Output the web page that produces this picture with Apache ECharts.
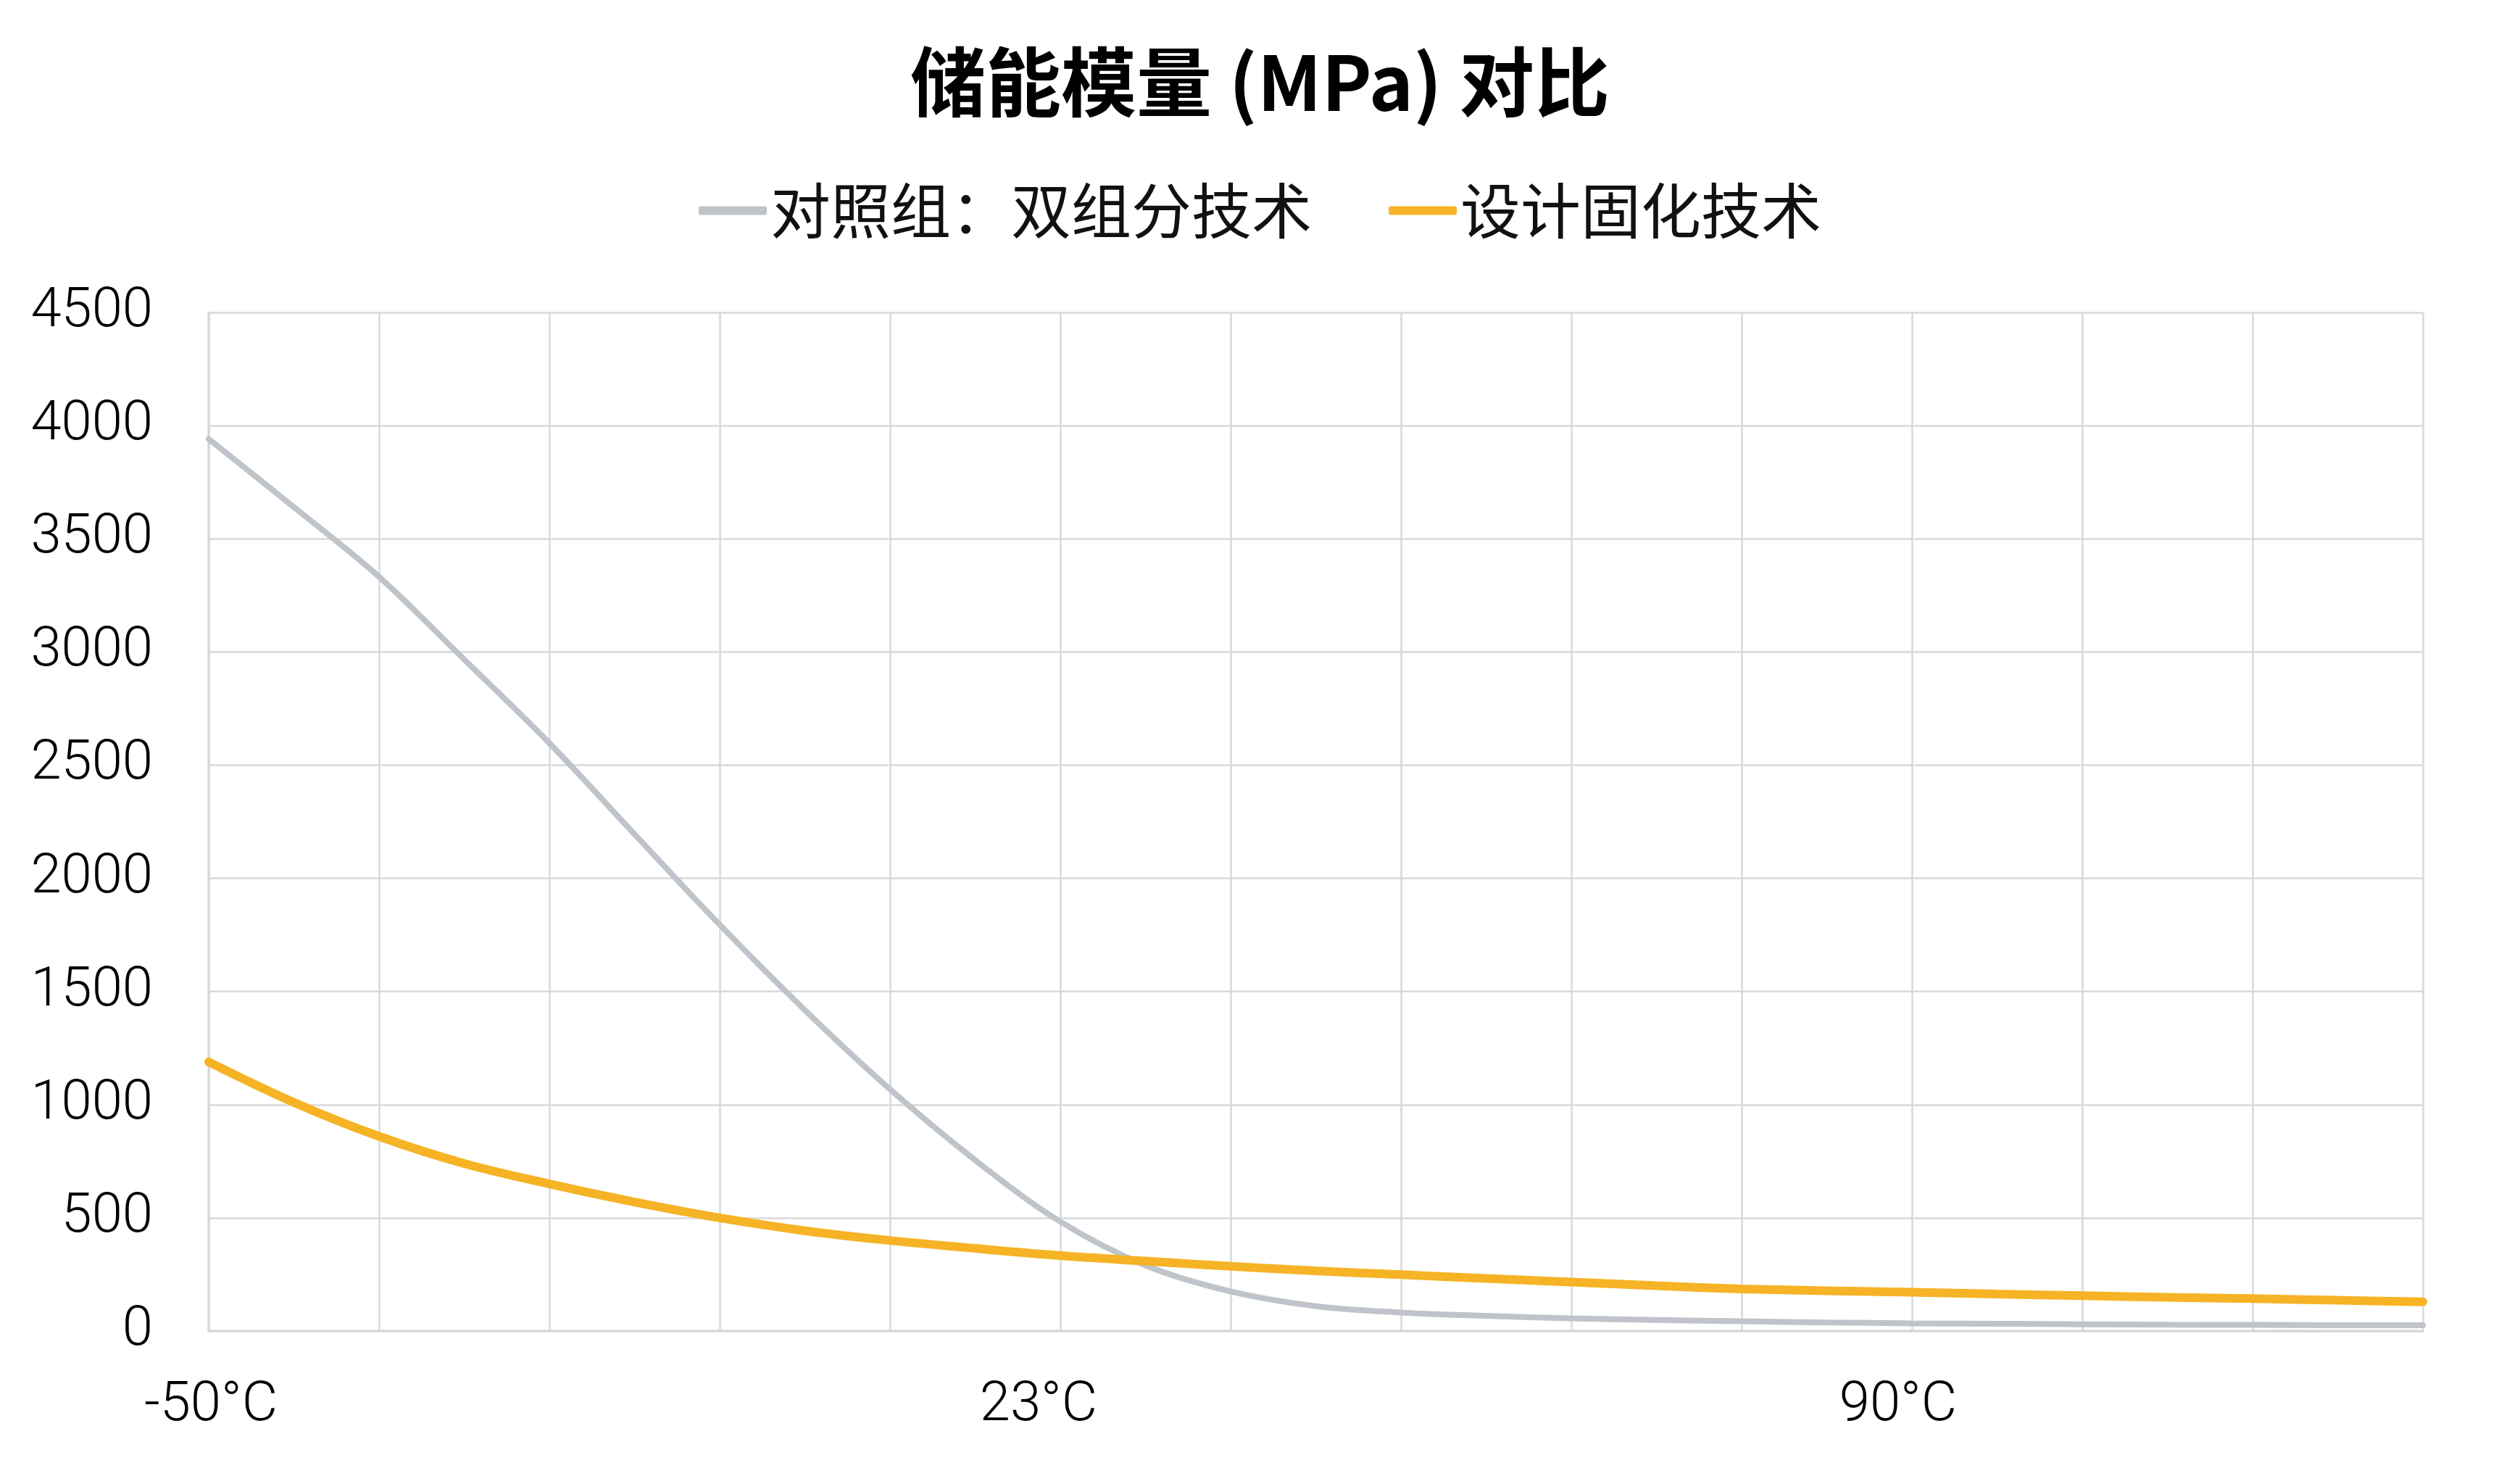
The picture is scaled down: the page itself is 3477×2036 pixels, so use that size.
<!DOCTYPE html>
<html>
<head>
<meta charset="utf-8">
<script src="https://cdn.jsdelivr.net/npm/echarts@6/dist/echarts.min.js"></script>
<style>
html,body{margin:0;padding:0;background:#fff;}
#chart{width:3477px;height:2036px;}
</style>
</head>
<body>
<div id="chart"></div>
<script>
const titleText = '储能模量 (MPa) 对比';
const seriesNames = ['对照组：双组分技术', '设计固化技术'];
const xCategories = ['-50°C','','','','','','','','','','23°C','','','','','','','','','','90°C','','','','','',''];
const controlValues = [3941,3640,3332,2967,2597,2195,1795,1418,1068,755,483,290,175,110,82,67,56,49,43,38,34,32,30,28,27,26,26];
const designValues = [1189,1010,860,740,650,570,500,443,400,365,333,309,286,266,249,232,216,200,186,178,171,163,156,149,143,136,129];
const yTicks = {min:0, max:4500, interval:500};

const latin = 'Roboto, "Noto Sans", sans-serif';
const cjk = '"Noto Sans CJK SC", "Noto Sans", sans-serif';
const labelStyle = {fontFamily:latin,fontSize:76,fontWeight:300,color:'#000'};

const chart = echarts.init(document.getElementById('chart'));
chart.setOption({
  backgroundColor:'#ffffff',
  animation:false,
  title:{
    text:titleText,
    left:'center',
    top:56,
    textStyle:{fontFamily:cjk,fontSize:104,fontWeight:'bold',color:'#000'}
  },
  legend:{
    data:seriesNames,
    top:244,
    left:'center',
    icon:'roundRect',
    itemWidth:94,
    itemHeight:12,
    itemGap:106,
    textStyle:{fontFamily:cjk,fontSize:83,color:'#111'}
  },
  grid:{left:288,right:134,top:431,bottom:200,containLabel:false},
  xAxis:{
    type:'category',
    data:xCategories,
    boundaryGap:false,
    axisLine:{show:true,lineStyle:{color:'#d9d9d9',width:3.5}},
    axisTick:{show:false},
    axisLabel:Object.assign({interval:0,margin:66,
      formatter:function(v,i){
        if(!v) return '';
        if(i===10) return '{m|'+v+'}';
        if(i===20) return '{r|'+v+'}';
        return '{l|'+v+'}';
      },
      rich:{
        l:Object.assign({padding:[0,0,0,6]},labelStyle),
        m:Object.assign({padding:[0,60,0,0]},labelStyle),
        r:Object.assign({padding:[0,38,0,0]},labelStyle)
      }
    },labelStyle),
    splitLine:{show:true,interval:1,lineStyle:{color:'#d9d9d9',width:2.5}}
  },
  yAxis:{
    type:'value',
    min:yTicks.min,max:yTicks.max,interval:yTicks.interval,
    axisLine:{show:true,lineStyle:{color:'#d9d9d9',width:3.5}},
    axisTick:{show:false},
    axisLabel:Object.assign({margin:77,formatter:function(v){return String(v);}},labelStyle),
    splitLine:{show:true,lineStyle:{color:'#d9d9d9',width:2.5}}
  },
  series:[
    {name:seriesNames[0],type:'line',data:controlValues,smooth:0.35,showSymbol:false,symbol:'none',
     lineStyle:{color:'#bfc3ca',width:8,cap:'round'},itemStyle:{color:'#bfc3ca'}},
    {name:seriesNames[1],type:'line',data:designValues,smooth:0.35,showSymbol:false,symbol:'none',
     lineStyle:{color:'#f5b325',width:12,cap:'round'},itemStyle:{color:'#f5b325'}}
  ]
});
</script>
</body>
</html>
